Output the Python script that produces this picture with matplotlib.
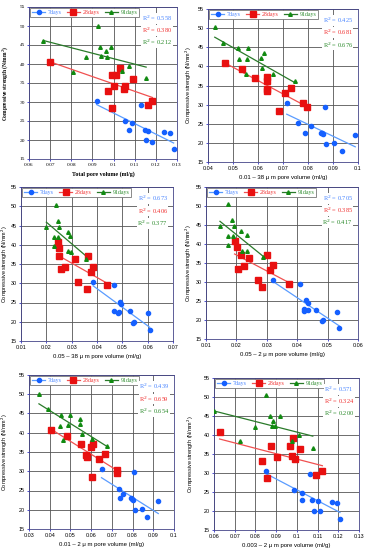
import numpy as np
import matplotlib
matplotlib.use("Agg")
import matplotlib.pyplot as plt
from matplotlib.lines import Line2D

# ---------------- data ----------------
series_labels = ["7days", "28days", "91days"]

# Panel 1: total pore volume
p1_x7 = [0.092, 0.1055, 0.1075, 0.1088, 0.113, 0.115, 0.1153, 0.1162, 0.118, 0.124, 0.1268, 0.1284]
p1_y7 = [30.3, 25.1, 22.6, 24.4, 29.3, 22.6, 19.9, 22.5, 19.6, 22.1, 21.8, 17.6]
p1_x28 = [0.070, 0.0975, 0.0993, 0.0994, 0.101, 0.1004, 0.1031, 0.1047, 0.1056, 0.1094, 0.1162, 0.1184]
p1_y28 = [40.6, 33.0, 28.3, 37.0, 37.0, 34.1, 39.0, 33.5, 34.1, 36.1, 29.3, 30.2]
p1_x91 = [0.0668, 0.081, 0.087, 0.0928, 0.0937, 0.0942, 0.0964, 0.0969, 0.0986, 0.1039, 0.1074, 0.1154]
p1_y91 = [46.1, 37.9, 41.8, 50.1, 44.6, 42.2, 43.3, 41.8, 44.6, 38.1, 39.6, 36.2]

# Panel 2: 0.01 - 38 um
p2_x7 = [0.0715, 0.0760, 0.0787, 0.0812, 0.0851, 0.0857, 0.0861, 0.0867, 0.0871, 0.0904, 0.0937, 0.0989]
p2_y7 = [30.3, 25.2, 22.7, 24.4, 22.6, 22.7, 22.3, 29.4, 19.8, 20.0, 17.8, 22.0]
p2_x28 = [0.0469, 0.0536, 0.0587, 0.0635, 0.0635, 0.0637, 0.0637, 0.0707, 0.0731, 0.0684, 0.0780, 0.0797]
p2_y28 = [40.8, 39.2, 37.0, 37.1, 36.3, 34.0, 33.5, 33.0, 34.3, 28.4, 30.3, 29.4]
p2_x91 = [0.0427, 0.0461, 0.0520, 0.0560, 0.0523, 0.0557, 0.0551, 0.0611, 0.0623, 0.0615, 0.0661, 0.0747]
p2_y91 = [50.2, 46.2, 44.7, 44.8, 41.8, 42.0, 38.0, 42.3, 43.4, 39.6, 38.0, 36.3]

# Panel 3: 0.05 - 38 um
p3_x7 = [0.0385, 0.0468, 0.0468, 0.0483, 0.0487, 0.0491, 0.0494, 0.0529, 0.0543, 0.0545, 0.0603, 0.0608]
p3_y7 = [30.4, 29.6, 22.9, 22.4, 22.6, 25.2, 24.5, 22.8, 19.8, 20.0, 22.2, 17.9]
p3_x28 = [0.0247, 0.0250, 0.0250, 0.0257, 0.0273, 0.0315, 0.0326, 0.0359, 0.0364, 0.0376, 0.0384, 0.0440]
p3_y28 = [40.7, 39.1, 37.0, 33.7, 34.2, 36.3, 30.4, 28.6, 37.0, 33.0, 34.3, 29.5]
p3_x91 = [0.0239, 0.0200, 0.0248, 0.0250, 0.0229, 0.0248, 0.0229, 0.0284, 0.0293, 0.0286, 0.0298, 0.0357]
p3_y91 = [50.2, 44.6, 46.1, 44.6, 42.0, 42.0, 39.7, 43.4, 42.2, 38.3, 38.2, 36.4]

# Panel 4: 0.05 - 2 um
p4_x7 = [0.0322, 0.0409, 0.0422, 0.0422, 0.0428, 0.0434, 0.0434, 0.0461, 0.0480, 0.0484, 0.0531, 0.0538]
p4_y7 = [30.4, 29.5, 22.5, 22.9, 25.3, 24.5, 22.6, 22.7, 19.8, 20.0, 22.0, 17.9]
p4_x28 = [0.0194, 0.0203, 0.0216, 0.0206, 0.0224, 0.0240, 0.0270, 0.0284, 0.0302, 0.0309, 0.0320, 0.0372]
p4_y28 = [40.8, 39.3, 37.1, 33.5, 34.2, 36.2, 30.4, 28.6, 37.1, 33.2, 34.4, 29.5]
p4_x91 = [0.0171, 0.0146, 0.0186, 0.0193, 0.0171, 0.0188, 0.0172, 0.0215, 0.0235, 0.0217, 0.0235, 0.0288]
p4_y91 = [50.4, 44.8, 46.2, 44.8, 42.0, 42.0, 39.7, 43.5, 42.3, 38.1, 38.2, 36.5]

# Panel 5: 0.01 - 2 um
p5_x7 = [0.0650, 0.0806, 0.0734, 0.0752, 0.0740, 0.0792, 0.0797, 0.0800, 0.0810, 0.0847, 0.0871, 0.0924]
p5_y7 = [30.5, 29.7, 25.4, 24.0, 23.0, 23.0, 22.8, 22.6, 20.0, 20.2, 18.0, 22.2]
p5_x28 = [0.0408, 0.0484, 0.0550, 0.0577, 0.0580, 0.0597, 0.0610, 0.0602, 0.0640, 0.0665, 0.0723, 0.0726]
p5_y28 = [40.8, 39.2, 37.1, 34.2, 33.6, 36.3, 37.1, 28.5, 33.2, 34.4, 30.3, 29.6]
p5_x91 = [0.0348, 0.0392, 0.0455, 0.0497, 0.0452, 0.0490, 0.0463, 0.0547, 0.0545, 0.0555, 0.0606, 0.0677]
p5_y91 = [50.0, 46.2, 44.6, 44.6, 41.8, 42.0, 38.1, 43.5, 42.4, 39.7, 38.4, 36.5]

# Panel 6: 0.003 - 2 um
p6_x7 = [0.0852, 0.1063, 0.0985, 0.1023, 0.1023, 0.1074, 0.1100, 0.1084, 0.1111, 0.1168, 0.1195, 0.1208]
p6_y7 = [30.6, 29.7, 25.4, 24.7, 22.9, 22.9, 22.7, 20.1, 19.9, 22.5, 22.2, 17.9]
p6_x28 = [0.0627, 0.0834, 0.0855, 0.0877, 0.0902, 0.0965, 0.0979, 0.0977, 0.0990, 0.1013, 0.1092, 0.1123]
p6_y28 = [40.9, 33.2, 28.6, 37.1, 34.3, 37.1, 39.3, 34.4, 33.7, 36.3, 29.5, 30.4]
p6_x91 = [0.0600, 0.0724, 0.0797, 0.0853, 0.0870, 0.0879, 0.0885, 0.0894, 0.0921, 0.0977, 0.1008, 0.1077]
p6_y91 = [46.4, 38.3, 42.1, 50.4, 44.9, 42.5, 43.7, 42.3, 44.9, 38.4, 39.9, 36.5]

r2_values = [
    ["0.558", "0.380", "0.212"],
    ["0.425", "0.681", "0.676"],
    ["0.673", "0.406", "0.377"],
    ["0.705", "0.385", "0.417"],
    ["0.439", "0.659", "0.654"],
    ["0.571", "0.324", "0.200"],
]

x_labels = [
    "Total pore volume (ml/g)",
    "0.01 \u2013 38 \u03bc m pore volume (ml/g)",
    "0.05 \u2013 38 \u03bc m pore volume (ml/g)",
    "0.05 \u2013 2 \u03bc m pore volume (ml/g)",
    "0.01 \u2013 2 \u03bc m pore volume (ml/g)",
    "0.003 \u2013 2 \u03bc m pore volume (ml/g)",
]
x_ticks = [
    [0.06, 0.07, 0.08, 0.09, 0.10, 0.11, 0.12, 0.13],
    [0.04, 0.05, 0.06, 0.07, 0.08, 0.09, 0.10],
    [0.01, 0.02, 0.03, 0.04, 0.05, 0.06, 0.07],
    [0.01, 0.02, 0.03, 0.04, 0.05, 0.06],
    [0.03, 0.04, 0.05, 0.06, 0.07, 0.08, 0.09, 0.10],
    [0.06, 0.07, 0.08, 0.09, 0.10, 0.11, 0.12, 0.13],
]
x_ticklabels = [
    ["0.06", "0.07", "0.08", "0.09", "0.1", "0.11", "0.12", "0.13"],
    ["0.04", "0.05", "0.06", "0.07", "0.08", "0.09", "0.1"],
    ["0.01", "0.02", "0.03", "0.04", "0.05", "0.06", "0.07"],
    ["0.01", "0.02", "0.03", "0.04", "0.05", "0.06"],
    ["0.03", "0.04", "0.05", "0.06", "0.07", "0.08", "0.09", "0.1"],
    ["0.06", "0.07", "0.08", "0.09", "0.1", "0.11", "0.12", "0.13"],
]
y_ticks = [15, 20, 25, 30, 35, 40, 45, 50, 55]

panels = [
    (p1_x7, p1_y7, p1_x28, p1_y28, p1_x91, p1_y91),
    (p2_x7, p2_y7, p2_x28, p2_y28, p2_x91, p2_y91),
    (p3_x7, p3_y7, p3_x28, p3_y28, p3_x91, p3_y91),
    (p4_x7, p4_y7, p4_x28, p4_y28, p4_x91, p4_y91),
    (p5_x7, p5_y7, p5_x28, p5_y28, p5_x91, p5_y91),
    (p6_x7, p6_y7, p6_x28, p6_y28, p6_x91, p6_y91),
]

# ---------------- style ----------------
W, H = 370, 550
boxes_px = [  # left, right, top, bottom in pixels
    (29, 177, 7, 159),
    (208, 358, 9, 162),
    (21, 173, 187, 341),
    (206, 358, 187, 339),
    (29, 174, 375, 529),
    (214, 359, 378, 530),
]
ylabel_center_px = [8, 192, 7.5, 191, 8, 193]
mk_colors = ["#1560ff", "#e81010", "#118a11"]
ln_colors = ["#5a9cff", "#f05050", "#2a7a2a"]
r2_colors = ["#4a86ff", "#f03030", "#2a8a2a"]
markers = ["o", "s", "^"]
msizes = [3.0, 4.6, 2.6]
SERIF = ["Liberation Serif", "DejaVu Serif"]
SANS = ["Liberation Sans", "DejaVu Sans"]

fig = plt.figure(figsize=(W / 100, H / 100), dpi=100)

for i, (data, box) in enumerate(zip(panels, boxes_px)):
    l, r, t, b = box
    ax = fig.add_axes([l / W, (H - b) / H, (r - l) / W, (b - t) / H])
    fam = SERIF if i == 0 else SANS
    xs = [data[0], data[2], data[4]]
    ys = [data[1], data[3], data[5]]
    handles = []
    for k in range(3):
        x = np.array(xs[k]); y = np.array(ys[k])
        ax.plot(x, y, linestyle="none", marker=markers[k], ms=msizes[k],
                color=mk_colors[k], mec=mk_colors[k], zorder=4)
        c = np.polyfit(x, y, 1)
        xl = np.array([x.min(), x.max()])
        ax.plot(xl, np.polyval(c, xl), color=ln_colors[k], lw=0.9, zorder=3)
        handles.append(Line2D([0], [0], color=ln_colors[k], lw=0.9,
                              marker=markers[k], ms=msizes[k],
                              mfc=mk_colors[k], mec=mk_colors[k]))
    ax.set_xlim(x_ticks[i][0], x_ticks[i][-1])
    ax.set_ylim(15, 55)
    ax.set_xticks(x_ticks[i])
    ax.set_xticklabels(x_ticklabels[i], fontsize=3.9, family=fam)
    ax.set_yticks(y_ticks)
    ax.set_yticklabels([str(v) for v in y_ticks], fontsize=3.9, family=fam)
    ax.grid(True, color="#555555", lw=0.6)
    ax.set_axisbelow(True)
    for s in ax.spines.values():
        s.set_color("#444488")
        s.set_linewidth(0.6)
    ax.tick_params(axis="both", length=1.5, width=0.6, color="#3333cc", pad=1.5)
    ax.set_xlabel(x_labels[i], fontsize=4.3, family=fam,
                  fontweight="bold" if i == 0 else "normal", labelpad=3)
    ax.set_ylabel("Compressive strength (N/mm$^2$)", fontsize=4.0, family=fam,
                  fontweight="bold" if i == 0 else "normal")
    ax.yaxis.set_label_coords((ylabel_center_px[i] + 2.5 - l) / (r - l), 0.5)
    leg = ax.legend(handles, series_labels, loc="upper left", ncol=3,
                    frameon=True, fancybox=False,
                    edgecolor="#777777", framealpha=1, handlelength=2.3,
                    columnspacing=0.9, handletextpad=0.4, borderpad=0.4,
                    borderaxespad=0.1, prop={"family": SERIF, "size": 4.2},
                    labelcolor=r2_colors)
    leg.get_frame().set_linewidth(0.6)
    for k in range(3):
        ax.text(0.965, 0.955 - k * 0.08, "R$^2$ = " + r2_values[i][k],
                transform=ax.transAxes, ha="right", va="top",
                fontsize=4.6, family=SERIF, color=r2_colors[k],
                bbox=dict(facecolor="white", edgecolor="none", pad=0.5),
                zorder=6)

fig.savefig("out.png", dpi=100)
